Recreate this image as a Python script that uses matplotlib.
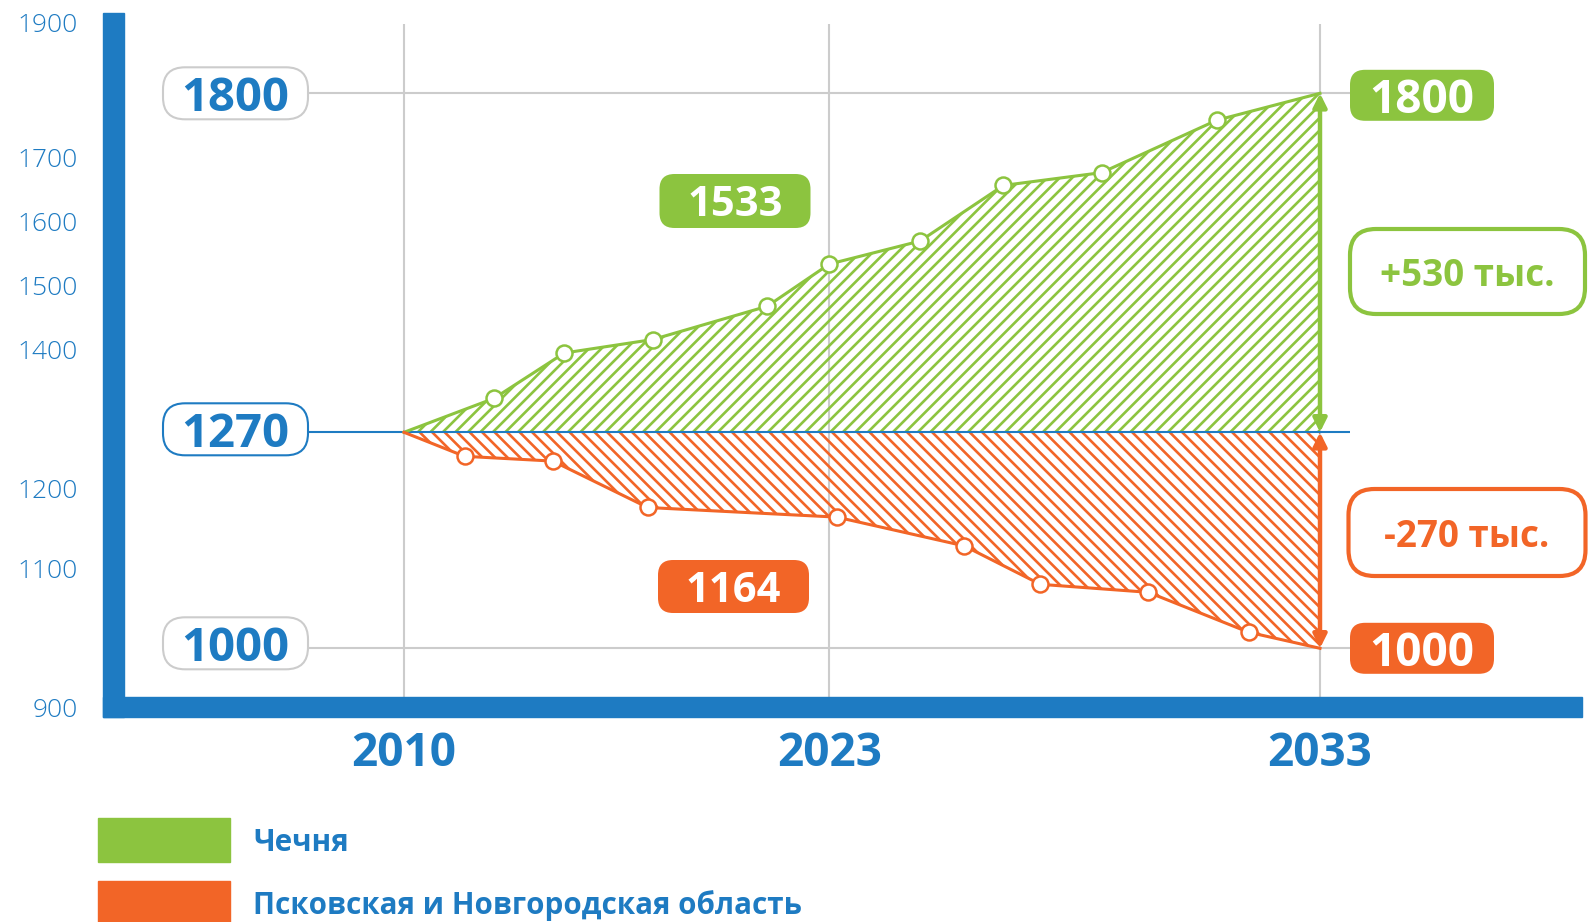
import numpy as np
import matplotlib
matplotlib.use('Agg')
import matplotlib.pyplot as plt
from matplotlib.patches import FancyBboxPatch, Rectangle
from matplotlib.transforms import IdentityTransform
from matplotlib.backend_bases import GraphicsContextBase

plt.rcParams['font.family'] = ['Open Sans', 'DejaVu Sans']
plt.rcParams['hatch.linewidth'] = 1.9

# denser hatch than the default
_hatch_path = GraphicsContextBase.get_hatch_path
GraphicsContextBase.get_hatch_path = lambda self, density=6.0: _hatch_path(self, 16.0)

# --- data ---
year_ticks = [2010, 2023, 2033]
y_ticks = [900, 1100, 1200, 1400, 1500, 1600, 1700, 1900]
start_value = 1270
chechnya_years = [2010, 2012.75, 2014.9, 2017.6, 2021.1, 2023, 2024.85, 2026.55, 2028.55, 2030.9, 2033]
chechnya_values = [1270, 1323, 1394, 1415, 1467, 1533, 1569, 1656, 1676, 1758, 1800]
pskov_years = [2010, 2011.85, 2014.55, 2017.45, 2023.15, 2025.75, 2027.3, 2029.5, 2031.55, 2033]
pskov_values = [1270, 1240, 1234, 1176, 1164, 1128, 1080, 1070, 1020, 1000]
series_names = ['Чечня', 'Псковская и Новгородская область']

blue = '#1e7bc2'
green = '#8cc43f'
orange = '#f26527'
grey = '#cccccc'

W, H = 1588, 922

# the infographic is not linear: piecewise scales through its reference lines
x_px = [404, 829.3, 1320]
y_anchor_vals = [900, 1000, 1270, 1800, 1900]
y_px = [707, 648.3, 432.3, 93.3, 23]


def piecewise(xp, fp):
    xp = np.asarray(xp, float)
    fp = np.asarray(fp, float)
    k0 = (fp[1] - fp[0]) / (xp[1] - xp[0])
    k1 = (fp[-1] - fp[-2]) / (xp[-1] - xp[-2])

    def f(v):
        v = np.asarray(v, float)
        return np.where(v < xp[0], fp[0] + (v - xp[0]) * k0,
                        np.where(v > xp[-1], fp[-1] + (v - xp[-1]) * k1,
                                 np.interp(v, xp, fp)))
    return f


xf, xi = piecewise(year_ticks, x_px), piecewise(x_px, year_ticks)
y_up = [H - p for p in y_px]
yf, yi = piecewise(y_anchor_vals, y_up), piecewise(y_up, y_anchor_vals)

fig = plt.figure(figsize=(W / 100, H / 100), dpi=100)
ax = fig.add_axes([124 / W, (H - 717) / H, (1582 - 124) / W, (717 - 13) / H])
ax.set_xscale('function', functions=(xf, xi))
ax.set_yscale('function', functions=(yf, yi))
ax.set_xlim(float(xi(124)), float(xi(1582)))
ax.set_ylim(float(yi(H - 717)), float(yi(H - 13)))
for s in ax.spines.values():
    s.set_visible(False)

# ticks
ax.set_yticks(y_ticks)
ax.set_yticklabels([str(t) for t in y_ticks], fontsize=19, color=blue, fontweight='light')
ax.set_xticks(year_ticks)
ax.set_xticklabels([str(t) for t in year_ticks], fontsize=33, color=blue, fontweight='bold')
ax.tick_params(axis='y', length=0, pad=33)
ax.tick_params(axis='x', length=0, pad=9)

# grid lines
ax.vlines(year_ticks, float(yi(H - 717)), float(yi(H - 24)), color=grey, lw=1.5, zorder=1)
line_x0, line_x1 = float(xi(235.5)), float(xi(1350))
ax.hlines([chechnya_values[-1], pskov_values[-1]], line_x0, line_x1, color=grey, lw=1.5, zorder=1)

# hatched areas
ax.fill_between(chechnya_years, chechnya_values, start_value, facecolor='none',
                edgecolor=green, hatch='/', lw=0, zorder=2)
ax.fill_between(pskov_years, pskov_values, start_value, facecolor='none',
                edgecolor=orange, hatch='\\', lw=0, zorder=2)
ax.hlines(start_value, line_x0, line_x1, color=blue, lw=1.5, zorder=3)

# lines with hollow markers
ax.plot(chechnya_years, chechnya_values, color=green, lw=2.2, marker='o', ms=11.5,
        mfc='white', mec=green, mew=1.8, markevery=list(range(1, len(chechnya_years) - 1)), zorder=4)
ax.plot(pskov_years, pskov_values, color=orange, lw=2.2, marker='o', ms=11.5,
        mfc='white', mec=orange, mew=1.8, markevery=list(range(1, len(pskov_years) - 1)), zorder=4)

# double arrows at the end year
end_year = year_ticks[-1]
for val, col in [(chechnya_values[-1], green), (pskov_values[-1], orange)]:
    ax.annotate('', xy=(end_year, val), xytext=(end_year, start_value),
                arrowprops=dict(arrowstyle='<|-|>', color=col, lw=3.2, mutation_scale=20,
                                shrinkA=0, shrinkB=0), zorder=5)


def pill(cx, cy, w, h, r, text, fc, ec, tc, lw, fs):
    # cx, cy in pixels from the top-left corner
    box = FancyBboxPatch((cx - w / 2, H - cy - h / 2), w, h,
                         boxstyle=f'round,pad=0,rounding_size={r}',
                         transform=IdentityTransform(), fc=fc, ec=ec, lw=lw, zorder=5)
    fig.add_artist(box)
    fig.text(cx / W, 1 - cy / H, text, ha='center', va='center_baseline',
             fontsize=fs, fontweight='bold', color=tc, zorder=6)


def py(v):
    return H - float(yf(v))


# value boxes on the left
pill(235.5, py(chechnya_values[-1]), 145, 52, 22, str(chechnya_values[-1]), 'white', grey, blue, 1.5, 34)
pill(235.5, py(start_value) - 3, 145, 52, 22, str(start_value), 'white', blue, blue, 1.5, 34)
pill(235.5, py(pskov_values[-1]) - 5, 145, 52, 22, str(pskov_values[-1]), 'white', grey, blue, 1.5, 34)

# end values on the right
pill(1422, py(chechnya_values[-1]) + 2, 144, 51, 15, str(chechnya_values[-1]), green, green, 'white', 0, 33)
pill(1422, py(pskov_values[-1]), 144, 51, 15, str(pskov_values[-1]), orange, orange, 'white', 0, 33)

# change boxes
diff_up = chechnya_values[-1] - start_value
diff_down = pskov_values[-1] - start_value
pill(1467.5, 271.5, 235, 85, 26, f'+{diff_up} тыс.', 'white', green, green, 3, 26.5)
pill(1467, 532.5, 237, 87, 26, f'{diff_down} тыс.', 'white', orange, orange, 3, 26.5)

# values in 2023
i_g = chechnya_years.index(2023)
pill(735, 201, 151, 54, 15, str(chechnya_values[i_g]), green, green, 'white', 0, 30)
pill(733.5, 586.5, 151, 53, 15, str(pskov_values[4]), orange, orange, 'white', 0, 30)

# thick blue axis bars
fig.add_artist(Rectangle((103, H - 717), 21, 704, transform=IdentityTransform(), color=blue, zorder=7))
fig.add_artist(Rectangle((103, H - 717), 1582 - 103, 20, transform=IdentityTransform(), color=blue, zorder=7))

# legend
for (y0, col, name) in [(818, green, series_names[0]), (881, orange, series_names[1])]:
    fig.add_artist(Rectangle((98, H - y0 - 44), 132, 44, transform=IdentityTransform(), color=col))
    fig.text(253 / W, 1 - (y0 + 21) / H, name, ha='left', va='center_baseline',
             fontsize=21.3, fontweight='bold', color=blue)

fig.savefig('out.png', dpi=100)
